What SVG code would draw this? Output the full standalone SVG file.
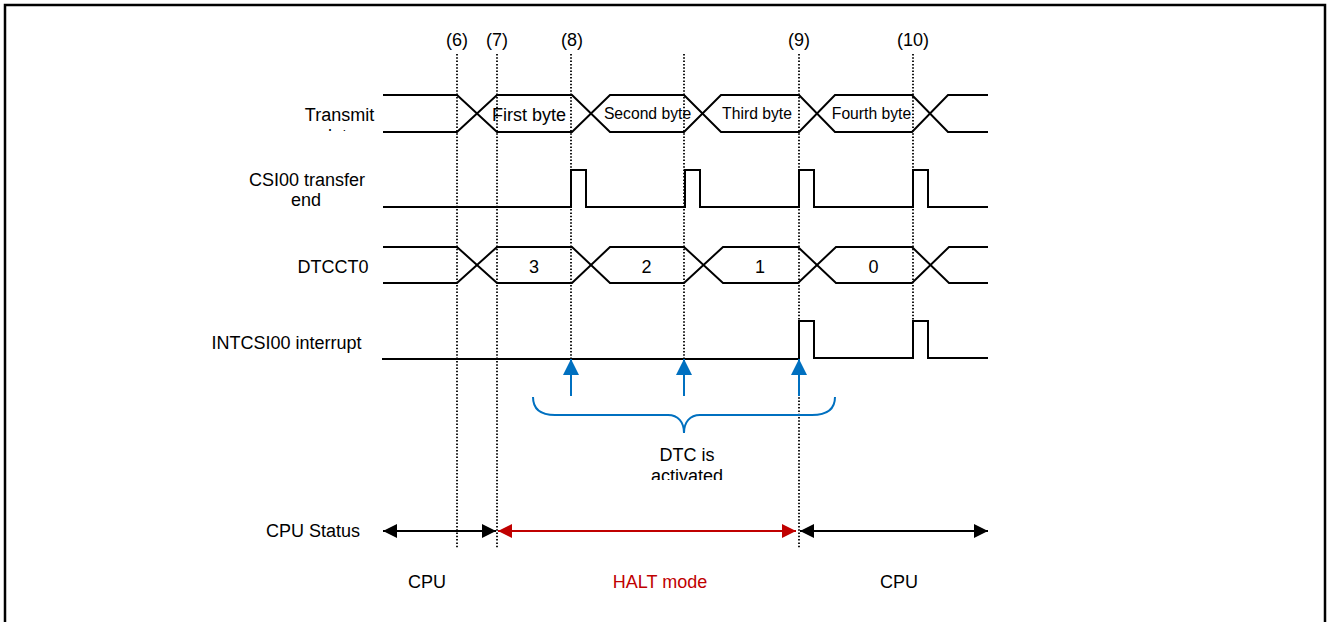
<svg xmlns="http://www.w3.org/2000/svg" width="1328" height="622" viewBox="0 0 1328 622">
<style>
text{font-family:"Liberation Sans",Arial,sans-serif;font-size:18px;fill:#000}
.mid{text-anchor:middle}
.sm{font-size:15.7px}
.wave{fill:none;stroke:#000;stroke-width:2;stroke-linejoin:miter}
.dot{stroke:#000;stroke-width:1.8;stroke-dasharray:1.5 1.8}
.blue{fill:none;stroke:#0070C0;stroke-width:2}
</style>
<defs>
<marker id="ahB" viewBox="0 0 14 14" markerWidth="14" markerHeight="14" refX="14" refY="7" orient="auto-start-reverse" markerUnits="userSpaceOnUse"><path d="M0,0 L14,7 L0,14 z" fill="#000"/></marker>
<marker id="ahR" viewBox="0 0 14 14" markerWidth="14" markerHeight="14" refX="14" refY="7" orient="auto-start-reverse" markerUnits="userSpaceOnUse"><path d="M0,0 L14,7 L0,14 z" fill="#C00000"/></marker>
<marker id="ahBl" viewBox="0 0 16 16" markerWidth="16" markerHeight="16" refX="16" refY="8" orient="auto" markerUnits="userSpaceOnUse"><path d="M0,0 L16,8 L0,16 z" fill="#0070C0"/></marker>
<clipPath id="clipData"><rect x="250" y="100" width="150" height="31"/></clipPath>
<clipPath id="clipAct"><rect x="600" y="440" width="180" height="40"/></clipPath>
</defs>
<rect width="1328" height="622" fill="#fff"/>
<path d="M5,622 V5 H1325 V622" fill="none" stroke="#000" stroke-width="2.5"/>

<g id="markers-labels">
<text class="mid" x="457" y="46">(6)</text>
<text class="mid" x="497" y="46">(7)</text>
<text class="mid" x="572" y="46">(8)</text>
<text class="mid" x="799" y="46">(9)</text>
<text class="mid" x="913" y="46">(10)</text>
</g>

<g id="dotted-lines">
<line class="dot" x1="457" y1="54" x2="457" y2="548"/>
<line class="dot" x1="497" y1="54" x2="497" y2="548"/>
<line class="dot" x1="571" y1="54" x2="571" y2="358"/>
<line class="dot" x1="684" y1="54" x2="684" y2="358"/>
<line class="dot" x1="799" y1="54" x2="799" y2="548"/>
<line class="dot" x1="913" y1="54" x2="913" y2="320"/>
</g>

<g id="transmit">
<text class="mid" x="339.5" y="121">Transmit</text>
<text class="mid" x="339.5" y="142" clip-path="url(#clipData)">data</text>
<path class="wave" d="M383,95 H457 L497,132 H572 L610,95 H684 L721,132 H799 L835,95 H912 L948,132 H988"/>
<path class="wave" d="M383,132 H457 L497,95 H572 L610,132 H684 L721,95 H799 L835,132 H912 L948,95 H988"/>
<text class="mid" x="529" y="121">First byte</text>
<text class="mid sm" x="647.5" y="119">Second byte</text>
<text class="mid sm" x="757" y="119">Third byte</text>
<text class="mid sm" x="871.5" y="119">Fourth byte</text>
</g>

<g id="csi00-transfer-end">
<text class="mid" x="307" y="186">CSI00 transfer</text>
<text class="mid" x="306" y="206">end</text>
<path class="wave" d="M383,207 H571 V170 H586 V207 H685 V170 H700 V207 H799 V170 H814 V207 H913 V170 H928 V207 H988"/>
</g>

<g id="dtcct0">
<text class="mid" x="333" y="273">DTCCT0</text>
<path class="wave" d="M383,247 H457 L497,283 H572 L610,247 H684 L723,283 H798 L836,247 H912 L949,283 H988"/>
<path class="wave" d="M383,283 H457 L497,247 H572 L610,283 H684 L723,247 H798 L836,283 H912 L949,247 H988"/>
<text class="mid" x="534" y="273">3</text>
<text class="mid" x="646.5" y="273">2</text>
<text class="mid" x="760" y="273">1</text>
<text class="mid" x="873.5" y="273">0</text>
</g>

<g id="intcsi00">
<text x="211.5" y="348.5">INTCSI00 interrupt</text>
<path class="wave" d="M382,359 H799 V321 H814 V358 H913 V321 H928 V358 H988"/>
</g>

<g id="dtc-activation">
<line class="blue" x1="571" y1="396" x2="571" y2="359" marker-end="url(#ahBl)"/>
<line class="blue" x1="684" y1="396" x2="684" y2="359" marker-end="url(#ahBl)"/>
<line class="blue" x1="799" y1="396" x2="799" y2="359" marker-end="url(#ahBl)"/>
<path class="blue" d="M533,397 C533,409 541,415 555,415 L668,415 C678,415 684,422 684,433 C684,422 690,415 700,415 L812,415 C827,415 835,409 835,397"/>
<text class="mid" x="687" y="461">DTC is</text>
<text class="mid" x="687" y="482" clip-path="url(#clipAct)">activated</text>
</g>

<g id="cpu-status">
<text x="266" y="537">CPU Status</text>
<line x1="383" y1="531" x2="496" y2="531" stroke="#000" stroke-width="2" marker-start="url(#ahB)" marker-end="url(#ahB)"/>
<line x1="498" y1="531" x2="796" y2="531" stroke="#C00000" stroke-width="2" marker-start="url(#ahR)" marker-end="url(#ahR)"/>
<line x1="800" y1="531" x2="988" y2="531" stroke="#000" stroke-width="2" marker-start="url(#ahB)" marker-end="url(#ahB)"/>
<text class="mid" x="427" y="588">CPU</text>
<text class="mid" x="660" y="588" style="fill:#C00000">HALT mode</text>
<text class="mid" x="899" y="588">CPU</text>
</g>
</svg>
